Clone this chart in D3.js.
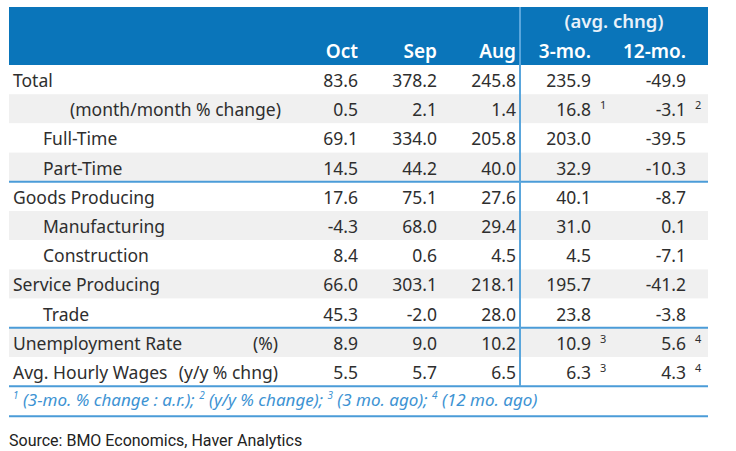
<!DOCTYPE html>
<html lang="en">
<head>
<meta charset="UTF-8">
<title>Employment table</title>
<style>
  body, html { margin: 0; padding: 0; background: #fff; }
  svg text { font-family: 'Noto Sans', sans-serif; }
</style>
</head>
<body>
<div id="container"></div>
<script src="https://d3js.org/d3.v7.min.js"></script>
<script>
  // -------- DATA ------------
  const rowLabels = ["Total", "(month/month % change)", "Full-Time", "Part-Time",
    "Goods Producing", "Manufacturing", "Construction", "Service Producing", "Trade",
    "Unemployment Rate", "Avg. Hourly Wages"]
  const rowLevels = [0, 2, 1, 1, 0, 1, 1, 0, 1, 0, 0]
  const rowUnits = ["", "", "", "", "", "", "", "", "", "(%)", "(y/y % chng)"]
  const colHeaders = ["Oct", "Sep", "Aug", "3-mo.", "12-mo."]
  const groupHeader = "(avg. chng)"
  const octVals = ["83.6", "0.5", "69.1", "14.5", "17.6", "-4.3", "8.4", "66.0", "45.3", "8.9", "5.5"]
  const sepVals = ["378.2", "2.1", "334.0", "44.2", "75.1", "68.0", "0.6", "303.1", "-2.0", "9.0", "5.7"]
  const augVals = ["245.8", "1.4", "205.8", "40.0", "27.6", "29.4", "4.5", "218.1", "28.0", "10.2", "6.5"]
  const threeMoVals = ["235.9", "16.8", "203.0", "32.9", "40.1", "31.0", "4.5", "195.7", "23.8", "10.9", "6.3"]
  const twelveMoVals = ["-49.9", "-3.1", "-39.5", "-10.3", "-8.7", "0.1", "-7.1", "-41.2", "-3.8", "5.6", "4.3"]
  const threeMoNotes = ["", "1", "", "", "", "", "", "", "", "3", "3"]
  const twelveMoNotes = ["", "2", "", "", "", "", "", "", "", "4", "4"]
  const footnotes = [["1", "(3-mo. % change : a.r.);"], ["2", "(y/y % change);"],
    ["3", "(3 mo. ago);"], ["4", "(12 mo. ago)"]]
  const breaksAfter = ["Part-Time", "Trade", "Avg. Hourly Wages"]
  const source = "Source: BMO Economics, Haver Analytics"

  // -------- LAYOUT ------------
  const W = 736, H = 451
  const left = 9, right = 708
  const headTop = 7, headBottom = 65
  const rowH = 29.2
  const tableBottom = headBottom + rowLabels.length * rowH
  const blue = "#0a75ba", lineBlue = "#4b9cd8", textCol = "#2e2e2e"

  const svg = d3.select("#container").append("svg")
    .attr("width", W).attr("height", H)

  const y = d3.scaleBand()
    .domain(rowLabels)
    .range([headBottom, tableBottom])

  // right edges of the value columns
  const x = d3.scaleOrdinal()
    .domain(colHeaders)
    .range([358, 437, 516, 591, 686])

  const columns = [octVals, sepVals, augVals, threeMoVals, twelveMoVals]
  const notes = [null, null, null, threeMoNotes, twelveMoNotes]

  // header band
  svg.append("rect")
    .attr("x", left).attr("y", headTop)
    .attr("width", right - left).attr("height", headBottom - headTop)
    .attr("fill", blue)

  // zebra rows
  svg.selectAll("rect.row")
    .data(rowLabels)
    .join("rect")
    .attr("class", "row")
    .attr("x", left).attr("y", d => y(d))
    .attr("width", right - left).attr("height", y.bandwidth())
    .attr("fill", (d, i) => i % 2 ? "#f0f0f0" : "#ffffff")

  // header texts
  svg.append("text")
    .attr("x", 614).attr("y", 28)
    .attr("text-anchor", "middle")
    .attr("fill", "#e8f1f9")
    .style("font-size", "18.5px").style("font-weight", "600")
    .text(groupHeader)

  svg.selectAll("text.colhead")
    .data(colHeaders)
    .join("text")
    .attr("class", "colhead")
    .attr("x", d => x(d)).attr("y", 58)
    .attr("text-anchor", "end")
    .attr("fill", "#ffffff")
    .style("font-size", "19px").style("font-weight", "600")
    .text(d => d)

  // row labels
  const indent = [13, 43, 70]
  svg.selectAll("text.label")
    .data(rowLabels)
    .join("text")
    .attr("class", "label")
    .attr("x", (d, i) => indent[rowLevels[i]])
    .attr("y", d => y(d) + 22)
    .attr("fill", textCol)
    .style("font-size", "17.5px")
    .text(d => d)

  svg.selectAll("text.unit")
    .data(rowLabels.filter((d, i) => rowUnits[i]))
    .join("text")
    .attr("class", "unit")
    .attr("x", 278)
    .attr("y", d => y(d) + 22)
    .attr("text-anchor", "end")
    .attr("fill", textCol)
    .style("font-size", "17.5px")
    .text(d => rowUnits[rowLabels.indexOf(d)])

  // values
  columns.forEach((vals, c) => {
    const col = colHeaders[c]
    svg.selectAll("text.v" + c)
      .data(vals)
      .join("text")
      .attr("class", "v" + c)
      .attr("x", x(col))
      .attr("y", (d, i) => y(rowLabels[i]) + 22)
      .attr("text-anchor", "end")
      .attr("fill", textCol)
      .style("font-size", "17.5px")
      .text(d => d)
    if (notes[c]) {
      svg.selectAll("text.n" + c)
        .data(notes[c])
        .join("text")
        .attr("class", "n" + c)
        .attr("x", x(col) + 9)
        .attr("y", (d, i) => y(rowLabels[i]) + 15)
        .attr("fill", textCol)
        .style("font-size", "11px")
        .text(d => d)
    }
  })

  // separator lines
  svg.selectAll("line.sep")
    .data(breaksAfter)
    .join("line")
    .attr("class", "sep")
    .attr("x1", left).attr("x2", right)
    .attr("y1", d => y(d) + y.bandwidth())
    .attr("y2", d => y(d) + y.bandwidth())
    .attr("stroke", lineBlue).attr("stroke-width", 2)

  svg.append("line")
    .attr("x1", 520).attr("x2", 520)
    .attr("y1", headTop).attr("y2", tableBottom)
    .attr("stroke", "#5aa6dc").attr("stroke-width", 2)

  // footnote row
  const footBottom = tableBottom + 30
  const foot = svg.append("text")
    .attr("x", 13).attr("y", tableBottom + 20)
    .attr("fill", "#3d93d3")
    .style("font-size", "17px").style("font-style", "italic")
  footnotes.forEach(([n, t], i) => {
    foot.append("tspan").attr("dy", -7).style("font-size", "10px").text(n)
    foot.append("tspan").attr("dy", 7).text(" " + t + (i < footnotes.length - 1 ? " " : ""))
  })
  svg.append("line")
    .attr("x1", left).attr("x2", right)
    .attr("y1", footBottom).attr("y2", footBottom)
    .attr("stroke", lineBlue).attr("stroke-width", 2)

  // source
  svg.append("text")
    .attr("x", 9).attr("y", 446)
    .attr("fill", "#222")
    .style("font-family", "Roboto, sans-serif")
    .style("font-size", "16px")
    .text(source)
</script>
</body>
</html>
